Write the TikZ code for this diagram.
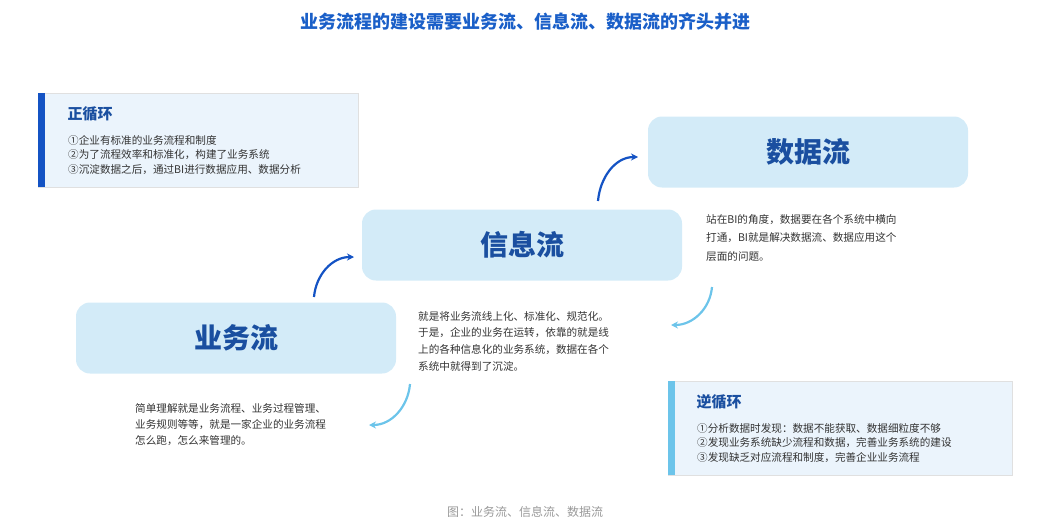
\documentclass[tikz,border=0pt]{standalone}
\usepackage{fontspec}
\setmainfont{Noto Sans CJK SC}
\usetikzlibrary{arrows.meta,positioning}
\definecolor{titleblue}{HTML}{1A5FC8}
\definecolor{flowfill}{HTML}{D3EBF8}
\definecolor{flowtext}{HTML}{1A4FA0}
\definecolor{notefill}{HTML}{EBF4FC}
\definecolor{darkbar}{HTML}{1453C4}
\definecolor{lightbar}{HTML}{6CC4EA}
\definecolor{textgray}{HTML}{333333}
\tikzset{
  flowbox/.style={fill=flowfill,rounded corners=14pt,minimum width=320pt,minimum height=71pt,
    text=flowtext,font=\fontsize{28}{32}\selectfont\bfseries},
  notebox/.style={fill=notefill,draw=black!12,line width=0.6pt},
  notetitle/.style={anchor=west,text=flowtext,font=\fontsize{15}{17}\selectfont\bfseries},
  noteline/.style={anchor=west,text=textgray,font=\fontsize{10.6}{12}\selectfont,inner sep=0pt},
  upturn/.style={-{Stealth[length=7pt,width=7pt]},line width=2.2pt,draw=darkbar},
  downturn/.style={-{Stealth[length=7pt,width=7pt]},line width=2.2pt,draw=lightbar}
}
\begin{document}
\begin{tikzpicture}[x=1pt,y=-1pt]
\useasboundingbox (0,0) rectangle (1062,527);
\node (title) at (525,22) [text=titleblue,font=\fontsize{18}{20}\selectfont\bfseries] {业务流程的建设需要业务流、信息流、数据流的齐头并进};
% positive loop
\draw[notebox] (38,93) rectangle (358,187);
\fill[darkbar] (38,93) rectangle (45,187);
\node (pos) at (64,114) [notetitle] {正循环};
\node (pos1) at (68,140) [noteline] {①企业有标准的业务流程和制度};
\node (pos2) at (68,155) [noteline] {②为了流程效率和标准化，构建了业务系统};
\node (pos3) at (68,170) [noteline] {③沉淀数据之后，通过BI进行数据应用、数据分析};
% flows
\node (data) at (808,152) [flowbox] {数据流};
\node (info) at (522,245) [flowbox] {信息流};
\node (biz) at (236,338) [flowbox] {业务流};
\coordinate (a1s) at (314,297); \coordinate (a1e) at (354,257);
\coordinate (a2s) at (598,201); \coordinate (a2e) at (638,157);
\coordinate (b1s) at (712,287); \coordinate (b1e) at (671,325);
\coordinate (b2s) at (410,384); \coordinate (b2e) at (369,425);
\draw[upturn] (a1s) to[out=85,in=180] (a1e);
\draw[upturn] (a2s) to[out=85,in=180] (a2e);
\draw[downturn] (b1s) to[out=-95,in=0] (b1e);
\draw[downturn] (b2s) to[out=-95,in=0] (b2e);
% descriptions
\node (d1) at (706,220) [noteline] {站在BI的角度，数据要在各个系统中横向};
\node (d2) at (706,238) [noteline] {打通，BI就是解决数据流、数据应用这个};
\node (d3) at (706,256) [noteline] {层面的问题。};
\node (i1) at (418,316) [noteline] {就是将业务流线上化、标准化、规范化。};
\node (i2) at (418,333) [noteline] {于是，企业的业务在运转，依靠的就是线};
\node (i3) at (418,350) [noteline] {上的各种信息化的业务系统，数据在各个};
\node (i4) at (418,366) [noteline] {系统中就得到了沉淀。};
\node (b1) at (135,408) [noteline] {简单理解就是业务流程、业务过程管理、};
\node (b2) at (135,425) [noteline] {业务规则等等，就是一家企业的业务流程};
\node (b3) at (135,441) [noteline] {怎么跑，怎么来管理的。};
% reverse loop
\draw[notebox] (668,381) rectangle (1012,475);
\fill[lightbar] (668,381) rectangle (675,475);
\node (neg) at (693,402) [notetitle] {逆循环};
\node (neg1) at (697,428) [noteline] {①分析数据时发现：数据不能获取、数据细粒度不够};
\node (neg2) at (697,443) [noteline] {②发现业务系统缺少流程和数据，完善业务系统的建设};
\node (neg3) at (697,458) [noteline] {③发现缺乏对应流程和制度，完善企业业务流程};
\node (caption) at (525,512) [text=black!40,font=\fontsize{12}{14}\selectfont] {图：业务流、信息流、数据流};
\end{tikzpicture}
\end{document}
